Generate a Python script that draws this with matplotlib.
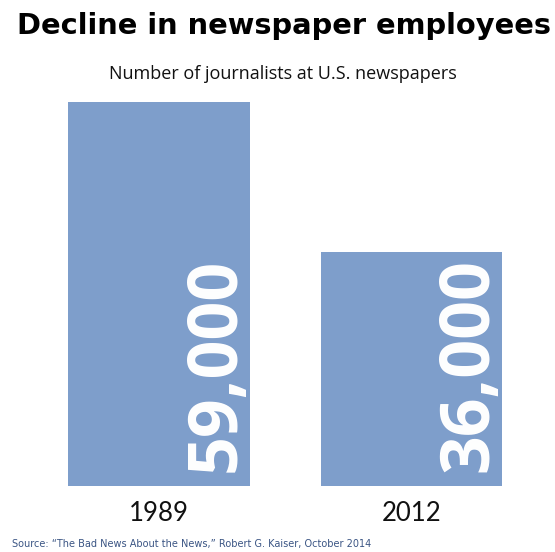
import matplotlib
matplotlib.use("Agg")
import matplotlib.pyplot as plt

# datos: periodistas en diarios de EE.UU.
anios = ["1989", "2012"]
periodistas = [59000, 36000]
etiquetas = ["59,000", "36,000"]

titulo = "Decline in newspaper employees"
subtitulo = "Number of journalists at U.S. newspapers"
fuente = "Source: \u201cThe Bad News About the News,\u201d Robert G. Kaiser, October 2014"

AZUL = "#7e9ecb"
AZUL_FUENTE = "#3b5584"

fig = plt.figure(figsize=(5.55, 5.52), dpi=100)
ax = fig.add_axes([0.059, 0.1196, 0.91, 0.6957])

x = range(len(anios))
ancho = 0.72
ax.bar(x, periodistas, width=ancho, color=AZUL)
ax.set_xlim(-0.5, 1.5)
ax.set_ylim(0, max(periodistas))
ax.axis("off")

# cifra en blanco, girada, pegada al borde derecho de cada barra
for i, (v, txt) in enumerate(zip(periodistas, etiquetas)):
    ax.annotate(txt, xy=(i + ancho / 2, 0), xytext=(1, 14),
                textcoords="offset pixels", rotation=90,
                ha="right", va="bottom", color="white",
                fontsize=49, fontweight="bold", family="Open Sans")

# años debajo de cada barra
for i, a in enumerate(anios):
    ax.text(i, -2300, a, ha="center", va="top", fontsize=18.5,
            family="Lato", color="#111111")

fig.text(0.5126, 1 - 34 / 552, titulo, ha="center", va="baseline",
         fontsize=20.8, fontweight="bold", family="DejaVu Sans", color="black")
fig.text(0.51, 1 - 79 / 552, subtitulo, ha="center", va="baseline",
         fontsize=13, family="Open Sans", color="#111111")
fig.text(12 / 555, 1 - 547 / 552, fuente, ha="left", va="baseline",
         fontsize=7, family="DejaVu Sans", color=AZUL_FUENTE)

fig.savefig("out.png", dpi=100)
